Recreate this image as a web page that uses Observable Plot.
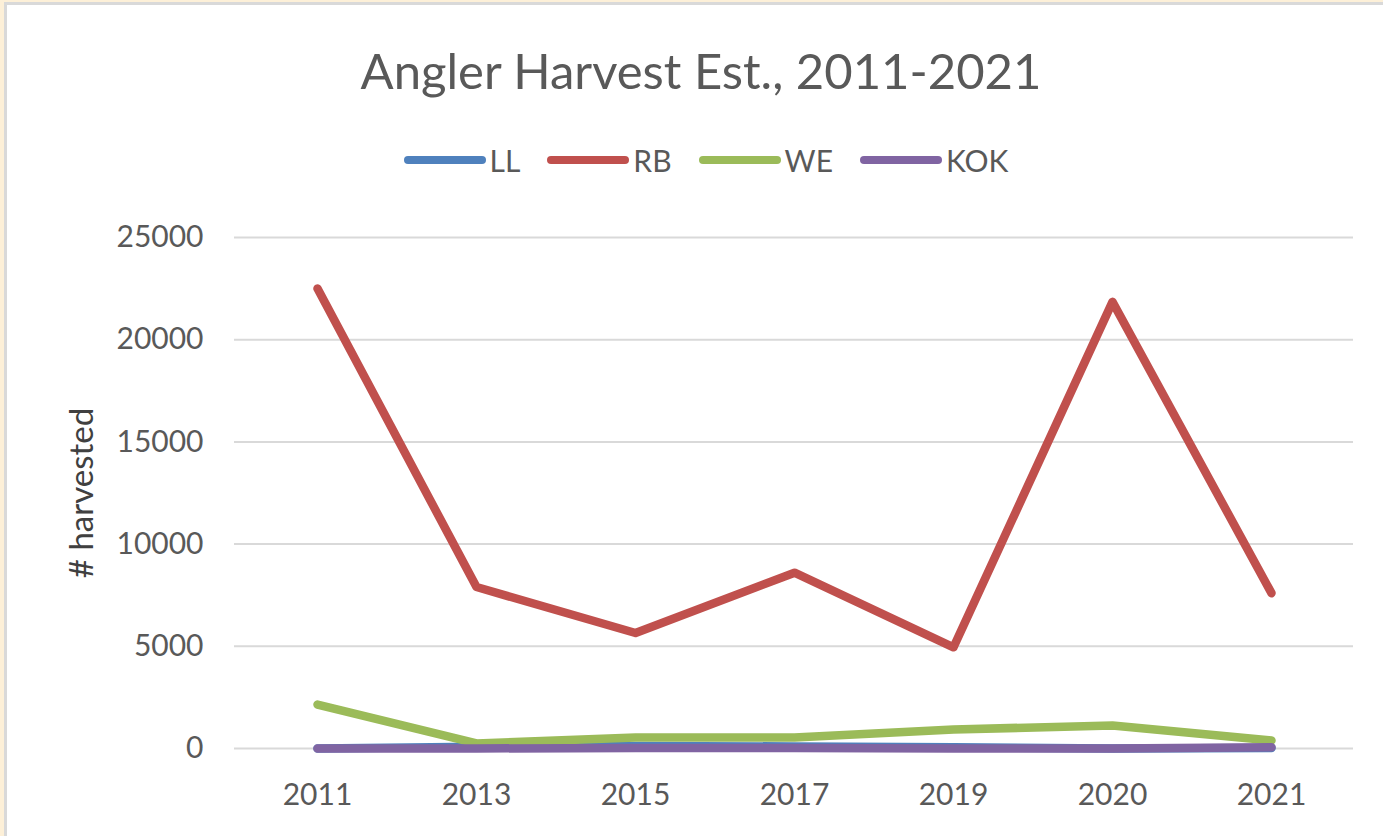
<!DOCTYPE html>
<html>
<head>
<meta charset="utf-8">
<script src="https://cdn.jsdelivr.net/npm/d3@7"></script>
<script src="https://cdn.jsdelivr.net/npm/@observablehq/plot@0.6"></script>
<style>
  html, body { margin: 0; padding: 0; }
  body { width: 1383px; height: 836px; background: #fdf0d8; position: relative; overflow: hidden; font-family: Lato, "Open Sans", sans-serif; }
  #frame { position: absolute; left: 4px; top: 2px; right: 0; bottom: 0; background: #fff; border-left: 3px solid #d9d9d9; border-top: 3px solid #d9d9d9; }
  #title { position: absolute; left: 0; top: 38px; width: 1402px; text-align: center; font-size: 49px; color: #595959; line-height: 64px; }
  #legend { position: absolute; left: 0; top: 140px; width: 1412px; display: flex; justify-content: center; gap: 27px; font-size: 30px; color: #595959; line-height: 40px; }
  .item { display: flex; align-items: center; gap: 4px; }
  .sw { width: 82px; height: 8px; border-radius: 4px; }
  #chart { position: absolute; left: 0; top: 200px; }
</style>
</head>
<body>
<div id="frame"></div>
<div id="title">Angler Harvest Est., 2011-2021</div>
<div id="legend"></div>
<div id="chart"></div>
<script>
const years = ["2011", "2013", "2015", "2017", "2019", "2020", "2021"];
const seriesNames = ["LL", "RB", "WE", "KOK"];
const LL  = [0, 80, 120, 100, 60, 0, 20];
const RB  = [22500, 7900, 5650, 8600, 4950, 21850, 7600];
const WE  = [2150, 250, 540, 540, 930, 1125, 390];
const KOK = [0, 0, 30, 20, 0, 0, 60];
const colors = ["#4f81bd", "#c0504d", "#9bbb59", "#8064a2"];
const yTicks = [0, 5000, 10000, 15000, 20000, 25000];

const valuesBySeries = {LL, RB, WE, KOK};
const data = seriesNames.flatMap(s => years.map((y, i) => ({year: y, value: valuesBySeries[s][i], series: s})));

// legend
const legend = document.getElementById("legend");
seriesNames.forEach((s, i) => {
  const it = document.createElement("div");
  it.className = "item";
  const sw = document.createElement("div");
  sw.className = "sw";
  sw.style.background = colors[i];
  const t = document.createElement("span");
  t.textContent = s;
  it.appendChild(sw); it.appendChild(t);
  legend.appendChild(it);
});

const plot = Plot.plot({
  width: 1383,
  height: 636,
  marginTop: 37,
  marginBottom: 88,
  marginLeft: 234,
  marginRight: 30,
  style: {fontFamily: "Lato, 'Open Sans', sans-serif", fontSize: "30px", color: "#595959", background: "transparent"},
  x: {type: "point", domain: years, padding: 0.5, label: null, tickSize: 0, tickPadding: 35},
  y: {domain: [0, 25000], ticks: yTicks, label: null, tickSize: 0, tickPadding: 31, tickFormat: d => String(d)},
  color: {domain: seriesNames, range: colors},
  marks: [
    Plot.ruleY(yTicks, {stroke: "#d9d9d9", strokeWidth: 2}),
    Plot.axisX({tickSize: 0, tickPadding: 35, fontSize: 30, fill: "#595959"}),
    Plot.axisY({ticks: yTicks, tickSize: 0, tickPadding: 31, fontSize: 30, fill: "#595959", tickFormat: d => String(d)}),
    Plot.line(data, {x: "year", y: "value", z: "series", stroke: "series", strokeWidth: 8.5, strokeLinecap: "round", strokeLinejoin: "round"})
  ]
});
document.getElementById("chart").appendChild(plot);

// y-axis title
const svg = d3.select(plot);
svg.append("text")
  .attr("transform", "translate(93, 293) rotate(-90)")
  .attr("text-anchor", "middle")
  .attr("font-size", 33)
  .attr("fill", "#404040")
  .text("# harvested");
</script>
</body>
</html>
